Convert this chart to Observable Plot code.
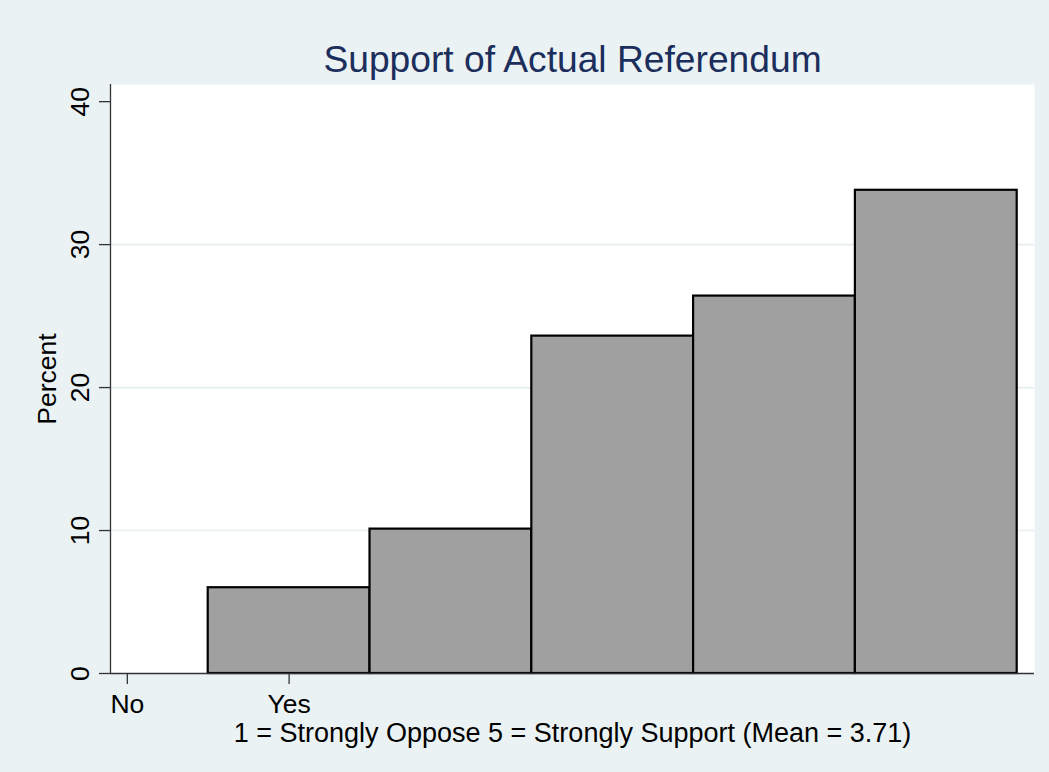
<!DOCTYPE html>
<html>
<head>
<meta charset="utf-8">
<script src="https://cdn.jsdelivr.net/npm/d3@7"></script>
<script src="https://cdn.jsdelivr.net/npm/@observablehq/plot@0.6"></script>
<style>
  html, body { margin: 0; padding: 0; background: #eaf2f3; overflow: hidden; }
  #chart { width: 1049px; height: 772px; }
</style>
</head>
<body>
<div id="chart"></div>
<script>
// Response categories (1 = strongly oppose ... 5 = strongly support) and their share in percent
const categories = [1, 2, 3, 4, 5];
const percents = [6.0, 10.1, 23.6, 26.4, 33.8];

// Tick labels
const xTickValues = [0, 1];
const xTickLabels = ["No", "Yes"];
const yTickValues = [0, 10, 20, 30, 40];
const gridValues = [10, 20, 30];

const titleText = "Support of Actual Referendum";
const captionText = "1 = Strongly Oppose 5 = Strongly Support (Mean = 3.71)";
const yLabelText = "Percent";

const bars = categories.map((c, i) => ({category: c, percent: percents[i]}));

const xDomain = [-0.104, 5.607];
const yDomain = [0, 41.2];
const ink = "#333333";
const font = "'Liberation Sans', Arial, sans-serif";

const chart = Plot.plot({
  width: 1049,
  height: 772,
  marginLeft: 110,
  marginRight: 15,
  marginTop: 84,
  marginBottom: 99,
  style: {background: "#eaf2f3", fontFamily: font, color: ink, overflow: "visible"},
  x: {domain: xDomain, axis: null},
  y: {domain: yDomain, axis: null},
  marks: [
    // white plot region
    Plot.frame({fill: "white", stroke: null}),
    // horizontal grid lines
    Plot.ruleY(gridValues, {stroke: "#e6eef0", strokeWidth: 1.6}),
    // histogram bars
    Plot.rectY(bars, {
      x1: d => d.category - 0.5,
      x2: d => d.category + 0.5,
      y: "percent",
      fill: "#a0a0a0",
      stroke: "black",
      strokeWidth: 2.2
    }),
    // axis lines
    Plot.ruleX([xDomain[0]], {stroke: ink, strokeWidth: 1.3}),
    Plot.ruleY([0], {stroke: ink, strokeWidth: 1.3}),
    // y axis ticks and rotated labels
    Plot.axisY(yTickValues, {
      anchor: "left",
      tickSize: 11,
      tickPadding: 11,
      tickRotate: -90,
      fontSize: 26.5,
      stroke: ink,
      strokeWidth: 1.3,
      fill: "black",
      label: null
    }),
    // x axis ticks and labels
    Plot.axisX(xTickValues, {
      anchor: "bottom",
      tickSize: 11,
      tickPadding: 10,
      tickFormat: d => xTickLabels[xTickValues.indexOf(d)],
      fontSize: 26.5,
      stroke: ink,
      strokeWidth: 1.3,
      fill: "black",
      label: null
    }),
    // title above the plot region
    Plot.text([titleText], {
      frameAnchor: "top",
      text: d => d,
      lineAnchor: "bottom",
      dy: -13,
      fontSize: 37.2,
      fill: "#1c2e5c"
    }),
    // caption under the x axis
    Plot.text([captionText], {
      frameAnchor: "bottom",
      text: d => d,
      lineAnchor: "bottom",
      dy: 68,
      fontSize: 27,
      fill: "black"
    }),
    // y axis title
    Plot.text([yLabelText], {
      frameAnchor: "left",
      text: d => d,
      rotate: -90,
      lineAnchor: "bottom",
      textAnchor: "middle",
      dx: -55,
      fontSize: 26.5,
      fill: "black"
    })
  ]
});

document.getElementById("chart").appendChild(chart);
</script>
</body>
</html>
